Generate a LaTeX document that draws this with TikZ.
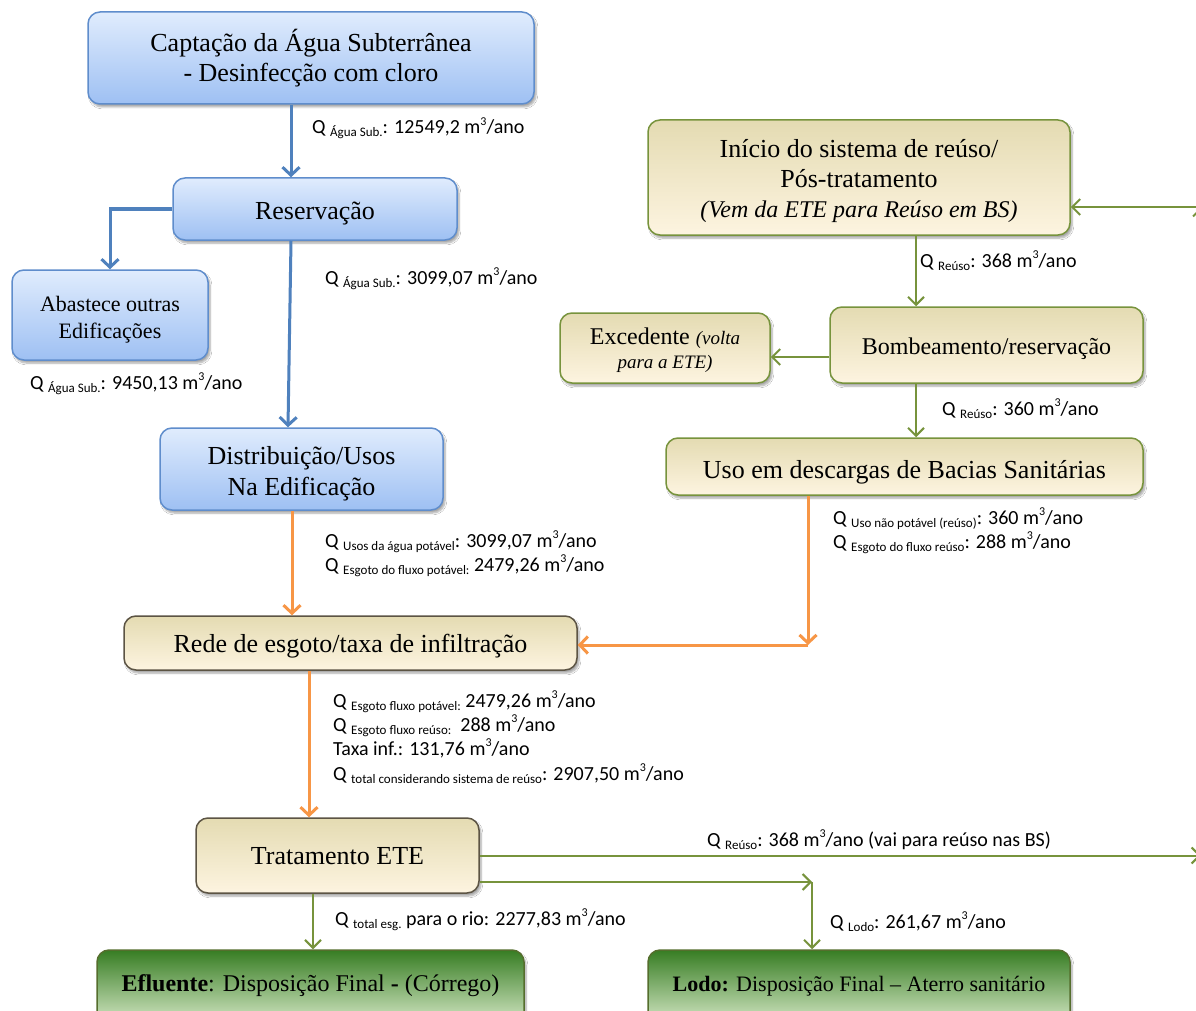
\documentclass[tikz,border=0pt]{standalone}
\usepackage{fontspec}
\setmainfont{Liberation Serif}
\newfontfamily\labfont{Carlito}
\usetikzlibrary{arrows.meta,shadows.blur}

\definecolor{blueln}{RGB}{79,129,189}
\definecolor{bluebd}{RGB}{95,141,204}
\definecolor{bluetop}{RGB}{224,236,253}
\definecolor{bluebot}{RGB}{158,192,243}
\definecolor{orangeln}{RGB}{247,150,70}
\definecolor{greenln}{RGB}{119,147,60}
\definecolor{tantop}{RGB}{228,219,178}
\definecolor{tanbot}{RGB}{253,244,224}
\definecolor{darkbd}{RGB}{92,84,68}
\definecolor{gtop}{RGB}{55,125,35}
\definecolor{gbot}{RGB}{225,240,210}
\definecolor{gbd}{RGB}{85,110,45}

% flow label helpers: subscripted Q and the m^3/ano unit
\newcommand{\Qsub}[1]{Q \raisebox{-3pt}{\fontsize{13}{15}\selectfont #1}}
\newcommand{\mtres}{m\raisebox{8.5pt}{\fontsize{12}{14}\selectfont 3}/ano}
% box text: centred lines, lowered by an optional amount without changing the box size
\newcommand{\bx}[2][4pt]{\raisebox{-#1}[\height][\depth]{\begin{tabular}{@{}c@{}}#2\end{tabular}}}

\tikzset{
  boxbase/.style={rounded corners=12pt, line width=1.5pt,
    inner sep=2pt, text=black,
    blur shadow={shadow xshift=2pt, shadow yshift=-3pt, shadow opacity=35, shadow blur steps=6}},
  bluebox/.style={boxbase, draw=bluebd, top color=bluetop, bottom color=bluebot},
  tanbox/.style={boxbase, draw=greenln, top color=tantop, bottom color=tanbot},
  tandark/.style={boxbase, draw=darkbd, top color=tantop, bottom color=tanbot},
  greenbox/.style={boxbase, draw=gbd, top color=gtop, bottom color=gbot},
  big/.style={font=\fontsize{26}{30}\selectfont},
  bluearr/.style={draw=blueln, line width=3pt, -{Straight Barb[length=8pt,width=17pt]}},
  orarr/.style={draw=orangeln, line width=3pt, -{Straight Barb[length=8pt,width=17pt]}},
  grarr/.style={draw=greenln, line width=2pt, -{Straight Barb[length=8pt,width=16pt]}},
  lab/.style={anchor=base west, inner sep=0pt, font=\labfont\fontsize{20}{24}\selectfont},
}

\begin{document}
\begin{tikzpicture}[x=1pt, y=-1pt]
\useasboundingbox (0,0) rectangle (1196,1011);
\clip (0,0) rectangle (1196,1011);
\fill[white] (0,0) rectangle (1196,1011);

% ---- potable water branch ----
\node[bluebox, big, minimum width=446pt, minimum height=92pt] (cap) at (311,58)
  {\bx[2pt]{Captação da Água Subterrânea\\- Desinfecção com cloro}};
\node[bluebox, big, minimum width=284pt, minimum height=62pt] (res) at (315,209) {\bx{Reservação}};
\node[bluebox, font=\fontsize{22}{27}\selectfont, minimum width=196pt, minimum height=90pt] (aba) at (110,315)
  {\bx[5pt]{Abastece outras\\Edificações}};
\node[bluebox, font=\fontsize{26}{31}\selectfont, minimum width=283pt, minimum height=82pt] (dis) at (301.5,469)
  {\bx[5pt]{Distribuição/Usos\\Na Edificação}};

% ---- reuse branch ----
\node[tanbox, font=\fontsize{26}{30}\selectfont, minimum width=422pt, minimum height=115pt] (ini) at (859,177.5)
  {\bx[4.5pt]{Início do sistema de reúso/\\Pós-tratamento\\{\fontsize{24}{30}\selectfont\itshape (Vem da ETE para Reúso em BS)}}};
\node[tanbox, font=\fontsize{24}{28}\selectfont, minimum width=313pt, minimum height=76pt] (bom) at (986.5,345)
  {\bx{Bombeamento/reservação}};
\node[tanbox, font=\fontsize{24}{24}\selectfont, minimum width=210pt, minimum height=70pt] (exc) at (665,348)
  {\bx[4pt]{Excedente {\fontsize{19}{24}\selectfont\itshape (volta}\\{\fontsize{19}{24}\selectfont\itshape para a ETE)}}};
\node[tanbox, big, minimum width=477pt, minimum height=57pt] (uso) at (904.5,466.5)
  {\bx[6pt]{Uso em descargas de Bacias Sanitárias}};

% ---- sewage and treatment ----
\node[tandark, big, minimum width=453pt, minimum height=54pt] (rede) at (350.5,643)
  {\bx[3pt]{Rede de esgoto/taxa de infiltração}};
\node[tandark, big, minimum width=283pt, minimum height=75pt] (tra) at (337.5,855.5) {\bx[3pt]{Tratamento ETE}};
\node[greenbox, font=\fontsize{24}{28}\selectfont, minimum width=427pt, minimum height=80pt] (efl) at (310.5,990)
  {\bx[-4pt]{\textbf{Efluente}: Disposição Final \textbf{-} (Córrego)}};
\node[greenbox, font=\fontsize{22}{28}\selectfont, minimum width=422pt, minimum height=80pt] (lod) at (859,990)
  {\bx[-4pt]{\textbf{Lodo:} Disposição Final – Aterro sanitário}};

% ---- connectors ----
\draw[bluearr] ([xshift=-20pt]cap.south) -- ([xshift=-24pt]res.north);
\draw[bluearr] (res.west) -| (aba.north);
\draw[bluearr] ([xshift=-24pt]res.south) -- ([xshift=-13.5pt]dis.north);

\draw[orarr] ([xshift=-9.5pt]dis.south) -- ([xshift=-58.5pt]rede.north);
\coordinate (oc) at (808,645);
\draw[orarr] ([xshift=-96.5pt]uso.south) -- (oc);
\draw[orarr] (oc) -- (rede.east |- oc);
\draw[orarr] ([xshift=-41.5pt]rede.south) -- ([xshift=-28.5pt]tra.north);

\draw[grarr] ([xshift=57pt]ini.south) -- ([xshift=-70.5pt]bom.north);
\draw[grarr] ([yshift=-12pt]bom.west) -- ([yshift=-9pt]exc.east);
\draw[grarr] ([xshift=-70.5pt]bom.south) -- ([xshift=11.5pt]uso.north);

\coordinate (rc1) at (1201,855.5);
\coordinate (rc2) at (1201,207);
\draw[grarr] (tra.east) -- (rc1);
\draw[grarr] (rc1) -- (rc2);
\draw[grarr] (rc2) -- (ini.east |- rc2);

\coordinate (lc) at (812,882);
\draw[grarr] (tra.east |- lc) -- (lc);
\draw[grarr] (lc) -- (lod.north -| lc);
\draw[grarr] ([xshift=-24.5pt]tra.south) -- ([xshift=2.5pt]efl.north);

% ---- flow labels ----
\node[lab] (l1) at (312,134) {\Qsub{Água Sub.}: 12549,2 \mtres};
\node[lab] (l2) at (325,284) {\Qsub{Água Sub.}: 3099,07 \mtres};
\node[lab] (l3) at (30,389) {\Qsub{Água Sub.}: 9450,13 \mtres};
\node[lab] (l4a) at (325,547) {\Qsub{Usos da água potável}: 3099,07 \mtres};
\node[lab] (l4b) at (325,571) {\Qsub{Esgoto do fluxo potável:} 2479,26 \mtres};
\node[lab] (l5) at (920,267) {\Qsub{Reúso}: 368 \mtres};
\node[lab] (l6) at (942,415) {\Qsub{Reúso}: 360 \mtres};
\node[lab] (l7a) at (833,524) {\Qsub{Uso não potável (reúso)}: 360 \mtres};
\node[lab] (l7b) at (833,548) {\Qsub{Esgoto do fluxo reúso}: 288 \mtres};
\node[lab] (l8a) at (333,707) {\Qsub{Esgoto fluxo potável:} 2479,26 \mtres};
\node[lab] (l8b) at (333,731) {\Qsub{Esgoto fluxo reúso:} \ 288 \mtres};
\node[lab] (l8c) at (333,755) {Taxa inf.: 131,76 \mtres};
\node[lab] (l8d) at (333,780) {\Qsub{total considerando sistema de reúso}: 2907,50 \mtres};
\node[lab] (l9) at (707,846) {\Qsub{Reúso}: 368 \mtres\ (vai para reúso nas BS)};
\node[lab] (l10) at (335,925) {\Qsub{total esg.} para o rio: 2277,83 \mtres};
\node[lab] (l11) at (830,928) {\Qsub{Lodo}: 261,67 \mtres};
\end{tikzpicture}
\end{document}
